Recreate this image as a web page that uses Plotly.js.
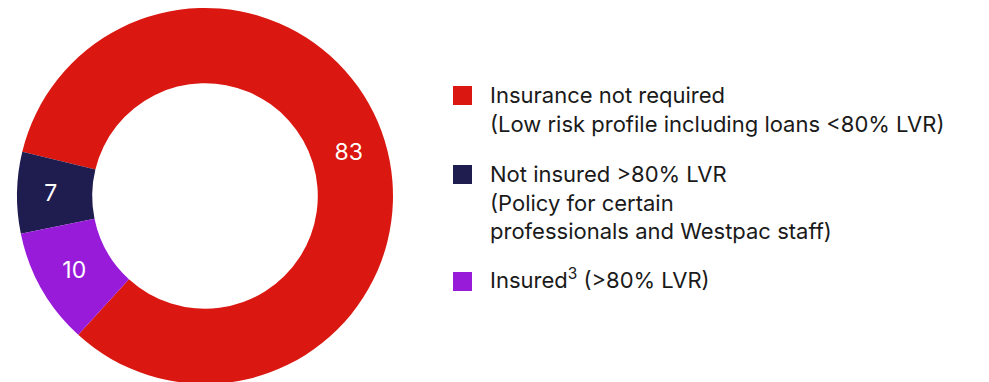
<!DOCTYPE html>
<html>
<head>
<meta charset="utf-8">
<script src="https://cdn.plot.ly/plotly-3.0.1.min.js"></script>
<style>
  html, body { margin: 0; padding: 0; overflow: hidden; background: #ffffff; }
</style>
</head>
<body>
<div id="chart"></div>
<script>
// Mortgage insurance split (% of portfolio)
const categories = ['Insurance not required', 'Not insured >80% LVR', 'Insured (>80% LVR)'];
const shares = [83, 7, 10];
const sliceColors = ['#DA1710', '#1F1C4F', '#991BDA'];
const legendLabels = [
  'Insurance not required<br>(Low risk profile including loans &lt;80% LVR)',
  'Not insured &gt;80% LVR<br>(Policy for certain<br>professionals and Westpac staff)',
  'Insured<sup>3</sup> (&gt;80% LVR)'
];

const W = 989, H = 384;
const FONT = 'Inter, "Noto Sans", sans-serif';

// pixel helpers for the hand-laid legend
const px = x => x / W;
const py = y => 1 - y / H;

const textTop = [80, 159, 262];     // top edge of each legend text block, px
const swatchTop = [86, 165, 272];   // top edge of each colour square, px
const swatch = { x0: 453, size: 19 };
const textLeft = 488;

const shapes = sliceColors.map((c, i) => ({
  type: 'rect', xref: 'paper', yref: 'paper',
  x0: px(swatch.x0), x1: px(swatch.x0 + swatch.size),
  y0: py(swatchTop[i]), y1: py(swatchTop[i] + swatch.size),
  fillcolor: c, line: { width: 0 }
}));

const annotations = legendLabels.map((t, i) => ({
  xref: 'paper', yref: 'paper',
  x: px(textLeft), y: py(textTop[i]),
  xanchor: 'left', yanchor: 'top', align: 'left',
  showarrow: false, text: t,
  font: { family: FONT, size: 22, color: '#1a1a1a' }
}));

const trace = {
  type: 'pie',
  labels: categories,
  values: shares,
  sort: false,
  direction: 'counterclockwise',
  rotation: -76.4,
  hole: 0.6,
  marker: { colors: sliceColors, line: { width: 0 } },
  textinfo: 'value',
  textposition: 'inside',
  insidetextorientation: 'horizontal',
  insidetextfont: { family: FONT, size: 23, color: '#ffffff' },
  domain: { x: [17 / W, 393 / W], y: [0, 376 / H] },
  showlegend: false,
  hoverinfo: 'label+value'
};

const layout = {
  width: W, height: H,
  margin: { l: 0, r: 0, t: 0, b: 0 },
  paper_bgcolor: '#ffffff',
  showlegend: false,
  shapes: shapes,
  annotations: annotations
};

Plotly.newPlot('chart', [trace], layout, { displayModeBar: false, staticPlot: true });
</script>
</body>
</html>
